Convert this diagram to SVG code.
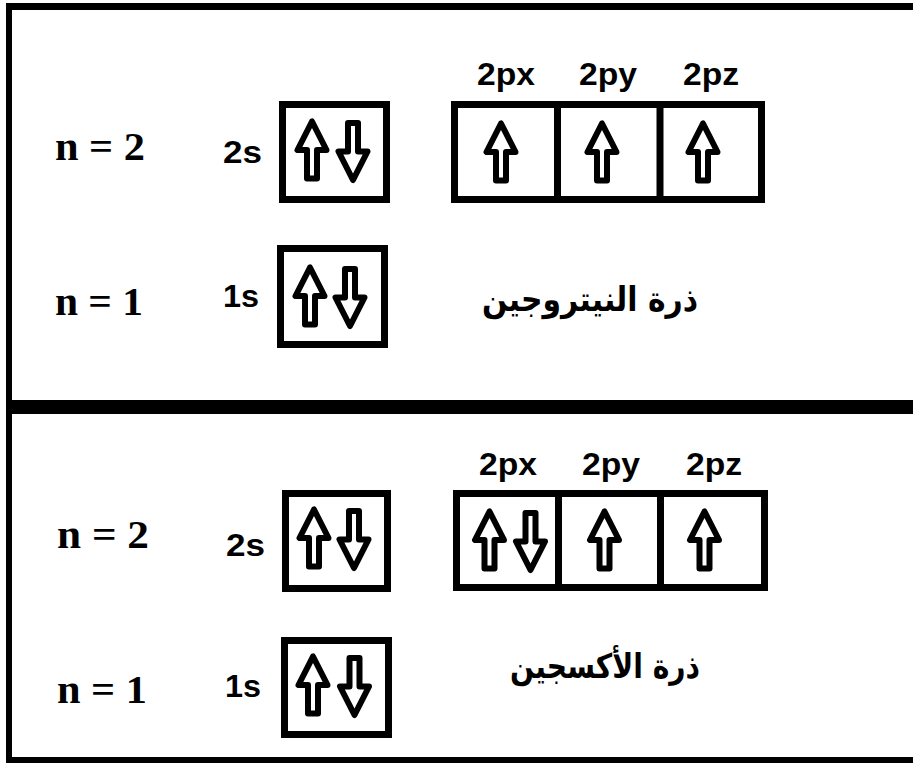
<svg xmlns="http://www.w3.org/2000/svg" xmlns:xlink="http://www.w3.org/1999/xlink" width="913" height="763" viewBox="0 0 913 763">
<style>
.frame{fill:#000}
.box{fill:#fff;stroke:#000;stroke-width:7}
.div{stroke:#000;stroke-width:7}
.arr{fill:#fff;stroke:#000;stroke-width:6;stroke-linejoin:round}
.n{font-family:"Liberation Serif",serif;font-weight:bold;font-size:40px;fill:#000}
.lab{font-family:"Liberation Sans",Arial,sans-serif;font-weight:bold;font-size:32px;fill:#000}
.ar{font-family:"DejaVu Sans","Noto Sans",sans-serif;font-weight:bold;font-size:34px;fill:#000}
</style>
<defs>
<path id="up" class="arr" d="M0,-28.5 L-14.5,0 L-5,0 L-5,28.5 L5,28.5 L5,0 L14.5,0 Z"/>
<path id="dn" class="arr" d="M0,28.5 L-14.5,0 L-5,0 L-5,-28.5 L5,-28.5 L5,0 L14.5,0 Z"/>
</defs>
<rect width="913" height="763" fill="#fff"/>
<g id="frame">
<rect class="frame" x="6" y="3" width="907" height="7"/>
<rect class="frame" x="6" y="3" width="6" height="760"/>
<rect class="frame" x="6" y="400" width="907" height="14"/>
<rect class="frame" x="6" y="757" width="907" height="6"/>
</g>
<g id="nitrogen">
<g id="n-levels">
<text class="n" x="55" y="160" textLength="90" lengthAdjust="spacingAndGlyphs">n = 2</text>
<text class="n" x="55" y="315" textLength="88" lengthAdjust="spacingAndGlyphs">n = 1</text>
</g>
<g id="n-2s">
<text class="lab" x="223" y="163" textLength="39" lengthAdjust="spacingAndGlyphs">2s</text>
<rect class="box" x="282.5" y="104.5" width="104" height="95"/>
<use xlink:href="#up" x="312" y="150"/>
<use xlink:href="#dn" x="353" y="151.5"/>
</g>
<g id="n-2p">
<text class="lab" x="506" y="85" text-anchor="middle" textLength="58" lengthAdjust="spacingAndGlyphs">2px</text>
<text class="lab" x="608" y="85" text-anchor="middle" textLength="58" lengthAdjust="spacingAndGlyphs">2py</text>
<text class="lab" x="711" y="85" text-anchor="middle" textLength="56" lengthAdjust="spacingAndGlyphs">2pz</text>
<rect class="box" x="454.5" y="104.5" width="307" height="95"/>
<line class="div" x1="557.5" y1="104.5" x2="557.5" y2="199.5"/>
<line class="div" x1="660" y1="104.5" x2="660" y2="199.5"/>
<use xlink:href="#up" x="501" y="152"/>
<use xlink:href="#up" x="602" y="152"/>
<use xlink:href="#up" x="703" y="152"/>
</g>
<g id="n-1s">
<text class="lab" x="223" y="307" textLength="36" lengthAdjust="spacingAndGlyphs">1s</text>
<rect class="box" x="280.5" y="248.5" width="104" height="96"/>
<use xlink:href="#up" x="310" y="296"/>
<use xlink:href="#dn" x="350" y="297.5"/>
</g>
<text id="n-title" class="ar" x="590" y="311" text-anchor="middle" direction="rtl" textLength="216" lengthAdjust="spacingAndGlyphs">ذرة النيتروجين</text>
</g>
<g id="oxygen">
<g id="o-levels">
<text class="n" x="57" y="548" textLength="92" lengthAdjust="spacingAndGlyphs">n = 2</text>
<text class="n" x="57" y="703" textLength="90" lengthAdjust="spacingAndGlyphs">n = 1</text>
</g>
<g id="o-2s">
<text class="lab" x="226" y="556" textLength="39" lengthAdjust="spacingAndGlyphs">2s</text>
<rect class="box" x="285.5" y="493.5" width="102" height="95"/>
<use xlink:href="#up" x="314" y="538"/>
<use xlink:href="#dn" x="354" y="539.5"/>
</g>
<g id="o-2p">
<text class="lab" x="508" y="475" text-anchor="middle" textLength="58" lengthAdjust="spacingAndGlyphs">2px</text>
<text class="lab" x="611" y="475" text-anchor="middle" textLength="58" lengthAdjust="spacingAndGlyphs">2py</text>
<text class="lab" x="714" y="475" text-anchor="middle" textLength="56" lengthAdjust="spacingAndGlyphs">2pz</text>
<rect class="box" x="456.5" y="493.5" width="308" height="94"/>
<line class="div" x1="558.5" y1="493.5" x2="558.5" y2="587.5"/>
<line class="div" x1="660.5" y1="493.5" x2="660.5" y2="587.5"/>
<use xlink:href="#up" x="489.5" y="540"/>
<use xlink:href="#dn" x="530.5" y="541.5"/>
<use xlink:href="#up" x="604.5" y="540"/>
<use xlink:href="#up" x="704.5" y="540"/>
</g>
<g id="o-1s">
<text class="lab" x="225" y="697" textLength="36" lengthAdjust="spacingAndGlyphs">1s</text>
<rect class="box" x="284.5" y="640.5" width="104" height="94"/>
<use xlink:href="#up" x="313" y="685"/>
<use xlink:href="#dn" x="354.5" y="686.5"/>
</g>
<text id="o-title" class="ar" x="605" y="678" text-anchor="middle" direction="rtl" textLength="190" lengthAdjust="spacingAndGlyphs">ذرة الأكسجين</text>
</g>
</svg>
